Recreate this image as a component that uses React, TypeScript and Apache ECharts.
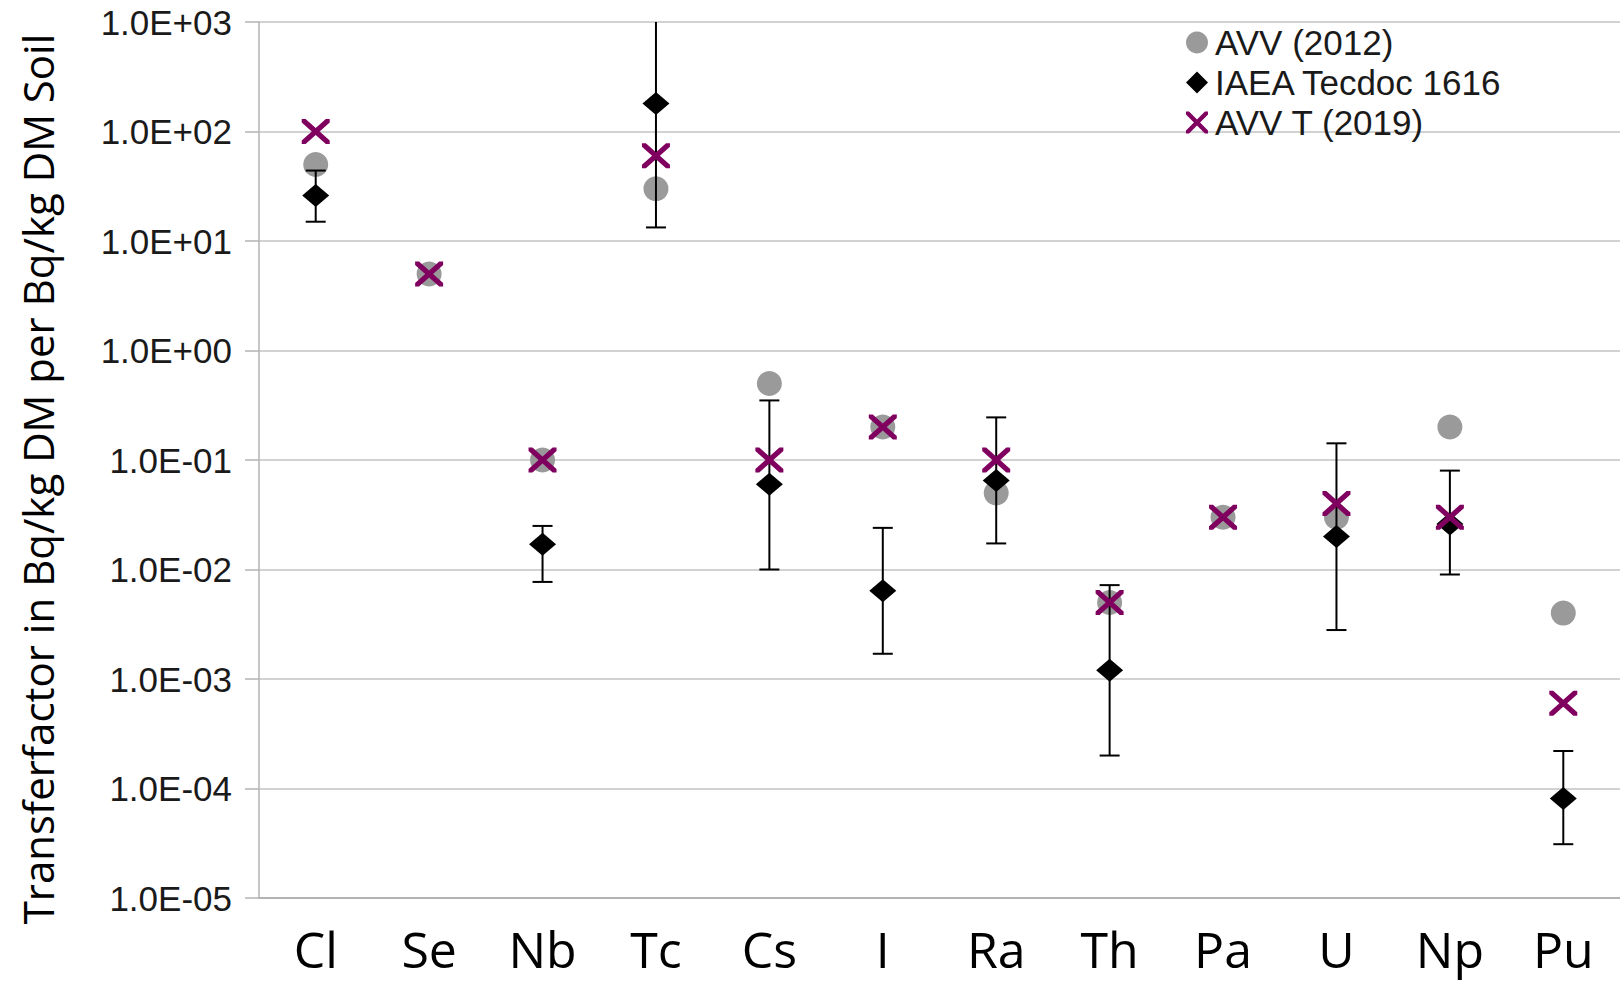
import React, { useEffect, useRef } from "react";
import * as echarts from "echarts";

const categories = ["Cl", "Se", "Nb", "Tc", "Cs", "I", "Ra", "Th", "Pa", "U", "Np", "Pu"];
const avv2012 = [50, 5, 0.1, 30, 0.5, 0.2, 0.05, 0.005, 0.03, 0.03, 0.2, 0.004];
const iaea = [26, null, 0.017, 180, 0.06, 0.0064, 0.065, 0.0012, null, 0.02, 0.026, 0.000081];
const iaeaLow = [15, null, 0.0077, 13.3, 0.01, 0.0017, 0.0173, 0.0002, null, 0.0028, 0.009, 0.000031];
const iaeaHigh = [44, null, 0.025, 1500, 0.35, 0.024, 0.245, 0.0072, null, 0.142, 0.08, 0.00022];
const avvT2019 = [100, 5, 0.1, 60, 0.1, 0.2, 0.1, 0.005, 0.03, 0.04, 0.03, 0.0006];

const seriesNames = ["AVV (2012)", "IAEA Tecdoc 1616", "AVV T (2019)"];
const yTitle = "Transferfactor in Bq/kg DM per Bq/kg DM Soil";

const CROSS =
  "path://M0,0 L2.8,0 L10,7.2 L17.2,0 L20,0 L20,2.8 L12.8,10 L20,17.2 L20,20 L17.2,20 L10,12.8 L2.8,20 L0,20 L0,17.2 L7.2,10 L0,2.8 Z";

const toPairs = (arr: (number | null)[]) =>
  arr.map((v, i) => (v == null ? null : [i, v])).filter((d) => d !== null);

const fmt = (v: number) => {
  const e = Math.round(Math.log10(v));
  const m = v / Math.pow(10, e);
  const s = e < 0 ? "-" : "+";
  return `${m.toFixed(1)}E${s}${String(Math.abs(e)).padStart(2, "0")}`;
};

export default function App() {
  const ref = useRef<HTMLDivElement>(null);
  useEffect(() => {
    if (!ref.current) return;
    const chart = echarts.init(ref.current, undefined, { renderer: "svg" });
    const errData = iaea
      .map((v, i) => (v == null ? null : [i, iaeaLow[i], iaeaHigh[i]]))
      .filter((d) => d !== null);
    chart.setOption({
      animation: false,
      backgroundColor: "#ffffff",
      grid: { left: 259, right: 0, top: 22, bottom: 89, containLabel: false },
      legend: {
        data: seriesNames,
        orient: "vertical",
        left: 1181,
        top: 20,
        itemWidth: 22,
        itemHeight: 22,
        itemGap: 5,
        textStyle: {
          fontFamily: "Liberation Sans",
          fontSize: 35,
          color: "#1a1a1a",
          lineHeight: 32,
          padding: [0, 0, 0, 2],
        },
      },
      xAxis: {
        type: "category",
        data: categories,
        boundaryGap: true,
        axisLine: { show: true, lineStyle: { color: "#b3b3b3", width: 2 } },
        axisTick: { show: false },
        splitLine: { show: false },
        axisLabel: {
          fontFamily: "Open Sans",
          fontSize: 50,
          lineHeight: 50,
          color: "#000",
          margin: 26,
        },
      },
      yAxis: {
        type: "log",
        logBase: 10,
        min: 1e-5,
        max: 1e3,
        splitNumber: 8,
        axisLine: { show: true, lineStyle: { color: "#b3b3b3", width: 1.5 } },
        axisTick: { show: true, inside: false, length: 14, lineStyle: { color: "#b3b3b3", width: 1.5 } },
        splitLine: { show: true, lineStyle: { color: "#c3c3c3", width: 1.5 } },
        minorTick: { show: false },
        axisLabel: {
          formatter: (v: number) => fmt(v),
          fontFamily: "Liberation Sans",
          fontSize: 35,
          color: "#1a1a1a",
          margin: 27,
        },
      },
      graphic: [
        {
          type: "text",
          x: 37,
          y: 479,
          rotation: Math.PI / 2,
          style: {
            text: yTitle,
            fontFamily: "Open Sans",
            fontSize: 42,
            fill: "#000",
            align: "center",
            verticalAlign: "middle",
          },
        },
      ],
      series: [
        {
          name: seriesNames[0],
          type: "scatter",
          data: toPairs(avv2012),
          symbol: "circle",
          symbolSize: 25,
          itemStyle: { color: "#9a9a9a", opacity: 1 },
          z: 2,
        },
        {
          type: "custom",
          name: "err",
          data: errData,
          clip: true,
          z: 3,
          encode: { x: 0, y: [1, 2] },
          renderItem: (params: any, api: any) => {
            const x = api.value(0);
            const lo = api.coord([x, api.value(1)]);
            const hi = api.coord([x, api.value(2)]);
            const cw = 10;
            const st = { stroke: "#000", lineWidth: 2 };
            return {
              type: "group",
              children: [
                { type: "line", shape: { x1: lo[0], y1: lo[1], x2: hi[0], y2: hi[1] }, style: st },
                { type: "line", shape: { x1: lo[0] - cw, y1: lo[1], x2: lo[0] + cw, y2: lo[1] }, style: st },
                { type: "line", shape: { x1: hi[0] - cw, y1: hi[1], x2: hi[0] + cw, y2: hi[1] }, style: st },
              ],
            };
          },
        },
        {
          name: seriesNames[1],
          type: "scatter",
          data: toPairs(iaea),
          symbol: "diamond",
          symbolSize: [27, 23],
          itemStyle: { color: "#000000", opacity: 1 },
          z: 4,
        },
        {
          name: seriesNames[2],
          type: "scatter",
          data: toPairs(avvT2019),
          symbol: CROSS,
          symbolSize: [28, 25],
          itemStyle: { color: "#800060", opacity: 1 },
          z: 5,
        },
      ],
    });
    return () => chart.dispose();
  }, []);
  return (
    <div
      ref={ref}
      style={{ position: "fixed", left: 0, top: 0, width: 1620, height: 987, background: "#fff" }}
    />
  );
}
